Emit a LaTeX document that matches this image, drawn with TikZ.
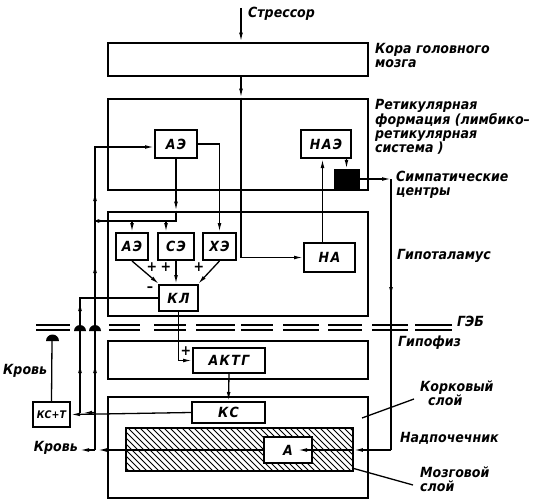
\documentclass[tikz,border=0pt]{standalone}
\usepackage{fontspec}
\setmainfont{DejaVu Sans Condensed}
\newfontfamily\boxfont{DejaVu Sans Condensed}[LetterSpace=10]
\usetikzlibrary{arrows.meta}

\tikzset{
  bigbox/.style={draw,line width=2.8pt,inner sep=0pt},
  blk/.style={draw,fill=white,line width=2pt,inner sep=0pt,font=\boxfont\bfseries\itshape\fontsize{14}{14}\selectfont},
  conn/.style={line width=1.3pt},
  tip/.style={-{Latex[length=9pt,width=3.8pt]}},
  lbl/.style={inner sep=0pt,align=left,font=\bfseries\itshape\fontsize{14}{14}\selectfont},
  sgn/.style={inner sep=0pt,font=\bfseries\fontsize{14}{14}\selectfont},
  gebline/.style={line width=1.4pt}
}

\begin{document}
\begin{tikzpicture}[x=1pt,y=-1pt]
  \useasboundingbox (0,0) rectangle (536,503);

  %main levels
  \node[bigbox,minimum width=260pt,minimum height=33pt] (cortex) at (238,59.5) {};
  \node[bigbox,minimum width=260pt,minimum height=91pt] (retic) at (238,144.5) {};
  \node[bigbox,minimum width=260pt,minimum height=104pt] (hypoth) at (238,264) {};
  \node[bigbox,minimum width=260pt,minimum height=38pt] (hypoph) at (238,360) {};
  \node[bigbox,minimum width=260pt,minimum height=101pt] (adren) at (238,447.5) {};

  %medulla, hatched
  \node[draw,line width=1.8pt,minimum width=227pt,minimum height=43pt,inner sep=0pt] (medul) at (239.5,449.5) {};
  \begin{scope}
    \clip (126,428) rectangle (353,471);
    \foreach \i in {80,86,...,356}{
      \draw[line width=0.9pt] (\i,428) -- ++(43,43);
    }
  \end{scope}

  %blocks
  \node[blk,minimum width=42pt,minimum height=28pt] (AEr) at (176,144) {АЭ};
  \node[blk,minimum width=50pt,minimum height=28pt] (NAE) at (326,144) {НАЭ};
  \node[draw,fill=black,minimum width=25pt,minimum height=20pt,inner sep=0pt] (blkbox) at (346.5,179) {};
  \node[blk,minimum width=51pt,minimum height=29pt] (NA) at (329.5,257.5) {НА};
  \node[blk,minimum width=32pt,minimum height=27pt] (AEh) at (132,246.5) {АЭ};
  \node[blk,minimum width=36pt,minimum height=27pt] (SE) at (176,246.5) {СЭ};
  \node[blk,minimum width=33pt,minimum height=27pt] (XE) at (219.5,246.5) {ХЭ};
  \node[blk,minimum width=39pt,minimum height=26pt] (KL) at (178.5,298) {КЛ};
  \node[blk,minimum width=72pt,minimum height=25pt] (AKTG) at (229,360.5) {АКТГ};
  \node[blk,minimum width=73pt,minimum height=21pt] (KC) at (228.5,412.5) {КС};
  \node[blk,minimum width=48pt,minimum height=26pt] (A) at (288,450) {А};
  \node[blk,minimum width=37pt,minimum height=25pt,font=\bfseries\itshape\fontsize{10.5}{10}\selectfont] (KCT) at (51.5,414.5) {КС+Т};

  %free ends and corners
  \coordinate (str) at (241,8);
  \coordinate (jn) at (176,221);
  \coordinate (b1) at (95,450);
  \coordinate (b1top) at (95,147);
  \coordinate (k1) at (80,413);
  \coordinate (k1top) at (80,298);
  \coordinate (rv) at (391,179);
  \coordinate (rvb) at (391,450);
  \coordinate (out) at (80,450);

  %stressor path
  \draw[conn,tip] (str) -- (str |- cortex.north);
  \draw[conn,tip] (str |- cortex.south) -- (str |- retic.north);
  \draw[conn,tip] (str |- retic.north) |- (NA.west);

  %reticular AE
  \draw[conn,tip] (AEr.east) -| (XE.north);
  \draw[conn,tip] (AEr.south) -- (AEr.south |- hypoth.north);
  \draw[conn] (AEr.south |- hypoth.north) -- (jn) -- (b1top |- jn);
  \draw[conn,tip] (b1top |- jn) -- (hypoth.west |- jn);
  \draw[conn,tip] (AEh.north |- jn) -- (AEh.north);
  \draw[conn,tip] ([xshift=-10pt]SE.north |- jn) -- ([xshift=-10pt]SE.north);

  %to KL
  \draw[conn,tip] (AEh.south) -- ([xshift=1pt]KL.north west);
  \draw[conn,tip] (SE.south) -- (SE.south |- KL.north);
  \draw[conn,tip] (XE.south) -- ([xshift=-1pt]KL.north east);
  \node[sgn] at (152,267) {+};
  \node[sgn] at (166,267) {+};
  \node[sgn] at (199,267) {+};
  \node[sgn] at (150,289) {–};

  %NA and sympathetic
  \draw[conn,tip] ([xshift=-7pt]NA.north) -- ([xshift=-7pt]NA.north |- NAE.south);
  \draw[conn,tip] (blkbox.north |- NAE.south) -- (blkbox.north);
  \draw[conn,tip] (blkbox.east) -- (rv);
  \draw[conn] (rv) -- (rvb);
  \draw[conn,tip] (391,280) -- (391,296);
  \draw[conn,tip] (rvb) -- (medul.east |- rvb);
  \draw[conn,tip] (medul.east |- rvb) -- ([xshift=-15pt]A.east);

  %pituitary, adrenal
  \draw[conn,tip] (KL.south) |- (AKTG.west);
  \node[sgn] at (186,351) {+};
  \draw[conn,tip] (AKTG.south) -- (KC.north);
  \draw[conn,tip] (KC.west) -- (KCT.east);
  \draw[conn,tip] (b1 |- KC.west) -- ([xshift=3pt]k1);
  \draw[conn,tip] (A.west) -- ([xshift=3pt]b1);
  \draw[conn,tip] (b1) -- (out);

  %feedback lines
  \draw[conn] (k1) -- (k1top) -- (KL.west);
  \draw[conn,tip] (80,312) -- (80,302);
  \draw[conn,tip] (80,378) -- (80,364);
  \draw[conn,tip] (b1) -- (b1top) -- (AEr.west |- b1top);
  \foreach \y in {192,264,364}{
    \draw[conn,tip] (95,\y+14) -- (95,\y);
  }
  \draw[conn] (KCT.north) -- (52,341);

  %blood-brain barrier
  \foreach \a/\b in {36/70,109/140,154/186,196/235,241/273,283/319,328/362,372/408,415/452}{
    \draw[gebline] (\a,325) -- (\b,325);
    \draw[gebline] (\a,330) -- (\b,330);
  }
  \fill (74,331) arc[start angle=180,end angle=360,radius=6] -- cycle;
  \fill (89,331) arc[start angle=180,end angle=360,radius=6] -- cycle;
  \fill (46,341) arc[start angle=180,end angle=360,radius=6.5] -- cycle;

  %leaders
  \draw[conn] (362,418) -- (414,399);
  \draw[conn] (352,468) -- (413,485);

  %labels
  \node[lbl,anchor=west] at (248,14) {Стрессор};
  \node[lbl,anchor=north west] at (375,43) {Кора головного\\мозга};
  \node[lbl,anchor=north west] at (375,99) {Ретикулярная\\формация (лимбико–\\ретикулярная\\система )};
  \node[lbl,anchor=north west] at (396,171) {Симпатические\\центры};
  \node[lbl,anchor=west] at (397,256) {Гипоталамус};
  \node[lbl,anchor=west] at (457,321) {ГЭБ};
  \node[lbl,anchor=west] at (398,343) {Гипофиз};
  \node[lbl,anchor=north west] at (420,381) {Корковый\\\hspace*{8pt}слой};
  \node[lbl,anchor=west] at (400,438) {Надпочечник};
  \node[lbl,anchor=north west] at (420,467) {Мозговой\\слой};
  \node[lbl,anchor=west] at (3,371) {Кровь};
  \node[lbl,anchor=east] at (78,448) {Кровь};
\end{tikzpicture}
\end{document}
